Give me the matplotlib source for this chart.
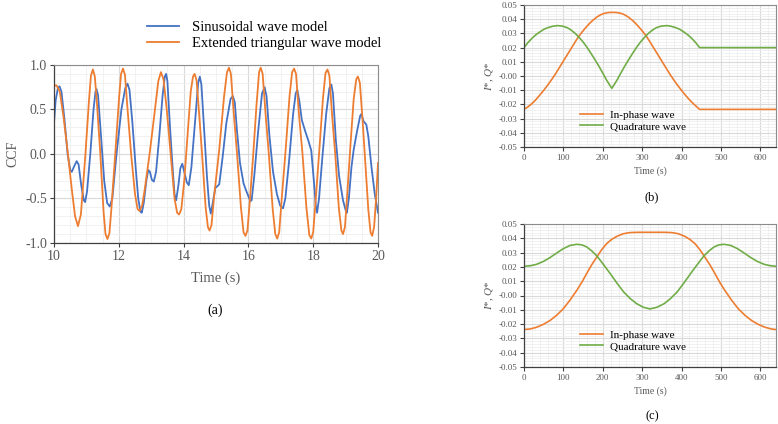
"""Recreate the CCF / I*-Q* three-panel figure."""
import matplotlib
matplotlib.use('Agg')
import matplotlib.pyplot as plt
from matplotlib.ticker import MultipleLocator, FormatStrFormatter

plt.rcParams['font.family'] = ['Liberation Serif', 'DejaVu Serif']
plt.rcParams['mathtext.fontset'] = 'custom'
plt.rcParams['mathtext.rm'] = 'Liberation Serif'
plt.rcParams['mathtext.it'] = 'Liberation Serif:italic'
plt.rcParams['axes.unicode_minus'] = False

# ---- panel (a): CCF, time in s ----
sin_t = [10.00, 10.05, 10.12, 10.17, 10.23, 10.32, 10.42, 10.50, 10.55, 10.62, 10.70, 10.76, 10.84, 10.92, 10.96,
         11.02, 11.12, 11.22, 11.28, 11.31, 11.36, 11.45, 11.55, 11.64, 11.72, 11.80, 11.93, 12.08, 12.20, 12.27,
         12.33, 12.42, 12.52, 12.60, 12.67, 12.71, 12.77, 12.85, 12.91, 12.96, 13.02, 13.08, 13.15, 13.25, 13.35,
         13.42, 13.46, 13.50, 13.58, 13.66, 13.72, 13.77, 13.84, 13.90, 13.96, 14.02, 14.10, 14.16, 14.24, 14.35,
         14.45, 14.50, 14.55, 14.63, 14.72, 14.79, 14.84, 14.90, 14.98, 15.05, 15.10, 15.20, 15.32, 15.45, 15.52,
         15.58, 15.65, 15.74, 15.85, 15.95, 16.06, 16.10, 16.18, 16.30, 16.42, 16.50, 16.56, 16.65, 16.76, 16.88,
         16.98, 17.07, 17.14, 17.25, 17.38, 17.46, 17.51, 17.57, 17.65, 17.75, 17.85, 17.94, 18.02, 18.08, 18.12,
         18.18, 18.28, 18.40, 18.50, 18.56, 18.61, 18.70, 18.80, 18.92, 19.00, 19.04, 19.10, 19.18, 19.25, 19.35,
         19.45, 19.49, 19.55, 19.64, 19.70, 19.80, 19.90, 20.00]
sin_v = [0.35, 0.60, 0.74, 0.76, 0.70, 0.40, 0.00, -0.18, -0.20, -0.14, -0.08, -0.12, -0.35, -0.52, -0.54,
         -0.42, 0.00, 0.50, 0.70, 0.73, 0.66, 0.20, -0.30, -0.55, -0.59, -0.50, 0.00, 0.50, 0.74, 0.79,
         0.72, 0.35, -0.15, -0.50, -0.65, -0.66, -0.55, -0.30, -0.18, -0.20, -0.29, -0.31, -0.20, 0.20, 0.65,
         0.87, 0.90, 0.82, 0.30, -0.15, -0.45, -0.52, -0.35, -0.16, -0.11, -0.20, -0.32, -0.35, -0.15, 0.35,
         0.80, 0.87, 0.78, 0.30, -0.25, -0.58, -0.67, -0.55, -0.38, -0.36, -0.34, -0.05, 0.35, 0.62, 0.65,
         0.58, 0.25, -0.10, -0.33, -0.43, -0.53, -0.52, -0.25, 0.25, 0.68, 0.75, 0.65, 0.20, -0.20, -0.45,
         -0.58, -0.61, -0.50, -0.10, 0.45, 0.68, 0.72, 0.60, 0.38, 0.26, 0.15, 0.04, -0.30, -0.58, -0.66,
         -0.50, -0.05, 0.45, 0.74, 0.78, 0.68, 0.15, -0.25, -0.52, -0.63, -0.66, -0.50, -0.15, 0.05, 0.25,
         0.43, 0.45, 0.37, 0.33, 0.20, -0.15, -0.45, -0.66]

tri_t = [10.00, 10.08, 10.18, 10.30, 10.43, 10.55, 10.65, 10.74, 10.83, 10.97, 11.08, 11.14, 11.20, 11.26, 11.32,
         11.43, 11.53, 11.59, 11.65, 11.71, 11.77, 11.89, 12.01, 12.07, 12.13, 12.19, 12.26, 12.38, 12.50, 12.58,
         12.64, 12.72, 12.80, 12.95, 13.10, 13.22, 13.30, 13.38, 13.48, 13.60, 13.72, 13.80, 13.86, 13.93, 14.02,
         14.10, 14.22, 14.29, 14.34, 14.40, 14.48, 14.57, 14.68, 14.75, 14.80, 14.86, 14.95, 15.10, 15.25, 15.34,
         15.40, 15.46, 15.55, 15.65, 15.77, 15.85, 15.91, 15.97, 16.05, 16.15, 16.25, 16.33, 16.38, 16.44, 16.53,
         16.63, 16.75, 16.83, 16.89, 16.95, 17.04, 17.15, 17.27, 17.35, 17.41, 17.47, 17.56, 17.67, 17.79, 17.88,
         17.94, 18.00, 18.09, 18.19, 18.30, 18.38, 18.44, 18.50, 18.58, 18.68, 18.79, 18.87, 18.92, 18.98, 19.06,
         19.15, 19.25, 19.33, 19.38, 19.44, 19.52, 19.60, 19.70, 19.77, 19.82, 19.88, 19.95, 20.00]
tri_v = [0.77, 0.77, 0.70, 0.40, 0.00, -0.40, -0.70, -0.81, -0.68, 0.00, 0.60, 0.88, 0.95, 0.87, 0.60,
         0.00, -0.65, -0.90, -0.955, -0.89, -0.62, 0.00, 0.64, 0.90, 0.96, 0.89, 0.55, 0.00, -0.45, -0.62,
         -0.64, -0.58, -0.40, 0.00, 0.45, 0.82, 0.92, 0.84, 0.50, 0.00, -0.50, -0.66, -0.68, -0.62, -0.30,
         0.10, 0.70, 0.87, 0.90, 0.83, 0.45, 0.00, -0.60, -0.82, -0.86, -0.80, -0.45, 0.05, 0.65, 0.92,
         0.97, 0.90, 0.45, 0.00, -0.60, -0.88, -0.92, -0.86, -0.50, 0.00, 0.55, 0.92, 0.97, 0.90, 0.45,
         0.00, -0.62, -0.90, -0.95, -0.88, -0.45, 0.05, 0.65, 0.92, 0.96, 0.90, 0.45, 0.00, -0.60, -0.91,
         -0.95, -0.88, -0.45, 0.05, 0.62, 0.91, 0.95, 0.88, 0.45, 0.00, -0.60, -0.86, -0.90, -0.82, -0.40,
         0.10, 0.62, 0.84, 0.87, 0.80, 0.40, -0.05, -0.62, -0.88, -0.92, -0.82, -0.45, -0.10]

# ---- panel (b): I*, Q* ----
b_i_t = [0, 10, 20, 30, 40, 50, 60, 70, 80, 90, 100, 110, 120, 130, 138, 147, 155, 165, 175, 185, 195, 205, 215,
         225, 235, 245, 255, 265, 275, 285, 295, 303, 312, 320, 330, 340, 350, 360, 370, 380, 390, 400, 410, 420,
         430, 440, 446, 640]
b_i_v = [-0.0235, -0.0217, -0.0195, -0.0167, -0.0135, -0.0101, -0.0065, -0.0026, 0.0015, 0.0060, 0.0105, 0.0150,
         0.0195, 0.0240, 0.0275, 0.0308, 0.0335, 0.0366, 0.0393, 0.0415, 0.0432, 0.0442, 0.0447, 0.0448, 0.0447,
         0.0442, 0.0432, 0.0415, 0.0393, 0.0366, 0.0335, 0.0308, 0.0275, 0.0240, 0.0195, 0.0150, 0.0105, 0.0060,
         0.0015, -0.0026, -0.0065, -0.0101, -0.0135, -0.0167, -0.0195, -0.0220, -0.0235, -0.0235]
b_q_t = [0, 10, 20, 30, 40, 50, 60, 72, 85, 98, 110, 120, 130, 140, 150, 160, 170, 180, 190, 200, 210, 223, 236,
         246, 256, 266, 276, 286, 296, 306, 316, 326, 336, 348, 363, 374, 386, 396, 406, 416, 426, 436, 446, 640]
b_q_v = [0.0200, 0.0235, 0.0265, 0.0290, 0.0310, 0.0328, 0.0340, 0.0350, 0.0355, 0.0351, 0.0340, 0.0323, 0.0300,
         0.0272, 0.0240, 0.0202, 0.0160, 0.0116, 0.0070, 0.0021, -0.0030, -0.0087, -0.0030, 0.0021, 0.0070, 0.0116,
         0.0160, 0.0202, 0.0240, 0.0272, 0.0300, 0.0323, 0.0340, 0.0351, 0.0355, 0.0350, 0.0340, 0.0328, 0.0310,
         0.0290, 0.0265, 0.0235, 0.0200, 0.0200]

# ---- panel (c): I*, Q* ----
c_i_t = [0, 16, 32, 49, 66, 83, 100, 117, 134, 147, 159, 172, 186, 198, 210, 223, 236, 252, 269, 290, 322, 354,
         375, 392, 408, 421, 434, 446, 458, 472, 485, 497, 510, 527, 544, 561, 578, 595, 612, 628, 640]
c_i_v = [-0.0238, -0.0234, -0.0222, -0.0202, -0.0175, -0.0138, -0.0092, -0.0032, 0.0036, 0.0093, 0.0153, 0.0215,
         0.0274, 0.0323, 0.0363, 0.0393, 0.0414, 0.0432, 0.0440, 0.0442, 0.0442, 0.0442, 0.0440, 0.0432, 0.0414,
         0.0393, 0.0363, 0.0323, 0.0274, 0.0215, 0.0153, 0.0093, 0.0036, -0.0032, -0.0092, -0.0138, -0.0175,
         -0.0202, -0.0222, -0.0234, -0.0238]
c_q_t = [0, 16, 32, 49, 66, 83, 100, 117, 134, 147, 159, 172, 186, 202, 219, 236, 253, 270, 286, 303, 320, 338,
         356, 372, 389, 406, 423, 440, 456, 470, 483, 495, 508, 525, 542, 559, 576, 593, 610, 626, 640]
c_q_v = [0.0204, 0.0208, 0.0218, 0.0238, 0.0265, 0.0297, 0.0328, 0.0350, 0.0358, 0.0354, 0.0340, 0.0312, 0.0274,
         0.0216, 0.0153, 0.0087, 0.0025, -0.0022, -0.0057, -0.0082, -0.0094, -0.0082, -0.0057, -0.0022, 0.0025,
         0.0087, 0.0153, 0.0216, 0.0274, 0.0312, 0.0340, 0.0354, 0.0358, 0.0350, 0.0328, 0.0297, 0.0265, 0.0238,
         0.0218, 0.0208, 0.0204]

BLUE, ORANGE, GREEN = '#4472C4', '#ED7D31', '#70AD47'
TICK_C = '#595959'

W, H = 778, 424
fig = plt.figure(figsize=(W / 100, H / 100), dpi=100)


def px_axes(l, t, r, b):
    return fig.add_axes([l / W, 1 - b / H, (r - l) / W, (b - t) / H])


def style(ax, xmaj, xmin, ymaj, ymin, fs):
    ax.xaxis.set_major_locator(MultipleLocator(xmaj)); ax.xaxis.set_minor_locator(MultipleLocator(xmin))
    ax.yaxis.set_major_locator(MultipleLocator(ymaj)); ax.yaxis.set_minor_locator(MultipleLocator(ymin))
    ax.grid(which='major', color='#d9d9d9', lw=0.8); ax.grid(which='minor', color='#efefef', lw=0.6)
    ax.set_axisbelow(True)
    ax.tick_params(which='major', direction='out', length=3, width=0.8, color='#404040', labelsize=fs,
                   labelcolor=TICK_C, pad=2)
    ax.tick_params(which='minor', length=0)
    for s in ['top', 'right']:
        ax.spines[s].set_color('#8c8c8c'); ax.spines[s].set_linewidth(0.8)
    for s in ['left', 'bottom']:
        ax.spines[s].set_color('#404040'); ax.spines[s].set_linewidth(0.9)


# (a)
ax = px_axes(54, 65, 378, 243)
ax.plot(sin_t, sin_v, color=BLUE, lw=1.3, label='Sinusoidal wave model')
ax.plot(tri_t, tri_v, color=ORANGE, lw=1.3, label='Extended triangular wave model')
ax.set_xlim(10, 20); ax.set_ylim(-1.0, 1.0)
style(ax, 2, 0.5, 0.5, 0.1, 10)
ax.yaxis.set_major_formatter(FormatStrFormatter('%.1f'))
ax.set_xlabel('Time (s)', fontsize=10.5, color=TICK_C, labelpad=6)
ax.set_ylabel('CCF', fontsize=10, color=TICK_C, labelpad=4)
fig.legend(loc='upper left', bbox_to_anchor=(147 / W, 1 - 21 / H), frameon=False, fontsize=10.5,
           handlelength=2.2, handletextpad=0.9, labelspacing=0.15, borderpad=0, borderaxespad=0)
fig.text(215 / W, 1 - 310 / H, '(a)', ha='center', va='center', fontsize=10)


def iq_panel(top, bottom, it, iv, qt, qv, leg_top, tag, tag_y):
    a = px_axes(524, top, 776, bottom)
    a.plot(it, iv, color=ORANGE, lw=1.2, label='In-phase wave')
    a.plot(qt, qv, color=GREEN, lw=1.2, label='Quadrature wave')
    a.set_xlim(0, 640); a.set_ylim(-0.05, 0.05)
    style(a, 100, 20, 0.01, 0.002, 6.5)
    a.yaxis.set_major_formatter(FormatStrFormatter('%.2f'))
    a.set_xlabel('Time (s)', fontsize=7, color=TICK_C, labelpad=3)
    a.set_ylabel(r'$I$*, $Q$*', fontsize=8, color=TICK_C, labelpad=2)
    a.legend(loc='upper left', bbox_to_anchor=((580 - 524) / 252, 1 - (leg_top - top) / (bottom - top)),
             frameon=False, fontsize=8, handlelength=2.1, handletextpad=0.6, labelspacing=0.15,
             borderpad=0, borderaxespad=0)
    fig.text(652 / W, 1 - tag_y / H, tag, ha='center', va='center', fontsize=9)


iq_panel(5, 147, b_i_t, b_i_v, b_q_t, b_q_v, 110, '(b)', 197)
iq_panel(224, 367, c_i_t, c_i_v, c_q_t, c_q_v, 330, '(c)', 416)

fig.savefig('out.png', dpi=100)
